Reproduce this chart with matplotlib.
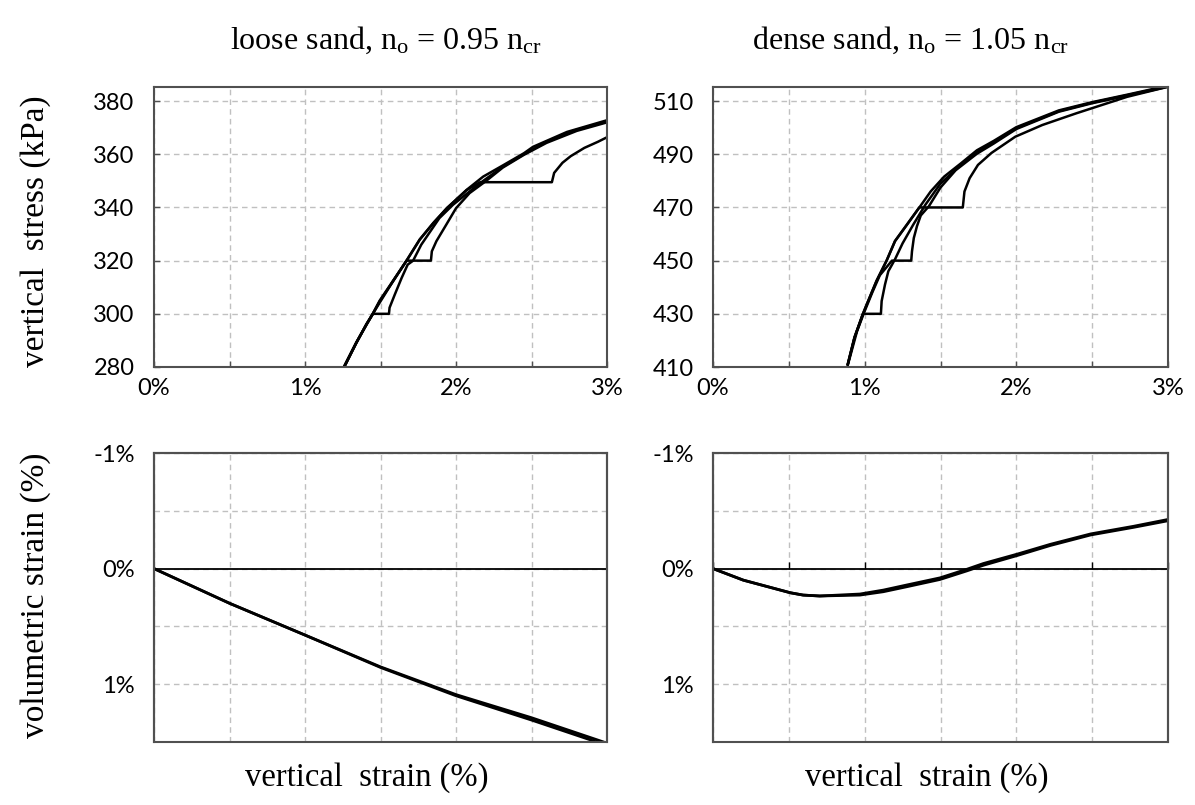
import matplotlib
matplotlib.use("Agg")
import matplotlib.pyplot as plt
from matplotlib.ticker import MultipleLocator, FuncFormatter
from matplotlib.patches import Rectangle

# ---------------- data (strain in %, stress in kPa) ----------------
# loose sand: stress-strain curves (one without creep, three with a creep step)
loose_E_x = [1.262, 1.34, 1.407, 1.45, 1.495, 1.584, 1.673, 1.76, 1.85, 1.94, 2.07, 2.18, 2.31, 2.45, 2.51, 2.735, 3.0]
loose_E_y = [280.4, 289.1, 296.0, 300.0, 304.8, 312.3, 320.0, 327.9, 334.1, 339.7, 346.6, 351.6, 355.8, 360.4, 362.8, 368.4, 372.8]
loose_B_x = [1.262, 1.34, 1.407, 1.45, 1.556, 1.56, 1.595, 1.64, 1.68, 1.716, 1.77, 1.83, 1.89, 1.98, 2.09, 2.18, 2.31, 2.45, 2.6, 2.8, 3.0]
loose_B_y = [280.2, 289.0, 296.2, 300.0, 300.0, 302.3, 307.3, 313.5, 318.5, 320.0, 326.0, 331.0, 336.0, 341.0, 346.0, 350.0, 355.3, 360.0, 364.7, 369.2, 372.3]
loose_C_x = [1.262, 1.34, 1.407, 1.45, 1.495, 1.584, 1.673, 1.834, 1.84, 1.87, 1.93, 2.0, 2.09, 2.2, 2.31, 2.45, 2.6, 2.8, 3.0]
loose_C_y = [280.6, 289.3, 296.0, 300.2, 305.0, 312.5, 320.0, 320.0, 323.5, 327.3, 333.0, 339.7, 345.4, 350.0, 355.0, 359.8, 364.3, 368.8, 372.0]
loose_D_x = [1.262, 1.34, 1.45, 1.584, 1.673, 1.76, 1.85, 1.94, 2.07, 2.16, 2.635, 2.65, 2.705, 2.76, 2.85, 2.94, 3.0]
loose_D_y = [280.3, 289.2, 300.1, 312.4, 320.1, 328.0, 334.2, 339.8, 346.5, 349.5, 349.5, 353.0, 356.8, 359.3, 362.4, 364.7, 366.4]

# dense sand
dense_E_x = [0.889, 0.933, 0.989, 1.023, 1.078, 1.145, 1.2, 1.279, 1.357, 1.435, 1.524, 1.635, 1.74, 1.85, 2.0, 2.28, 2.5, 2.73, 3.0]
dense_E_y = [411.0, 421.0, 430.0, 434.8, 442.3, 450.0, 457.3, 463.5, 469.7, 476.0, 481.6, 486.6, 491.5, 495.0, 500.2, 506.5, 509.6, 512.4, 515.8]
dense_B_x = [0.889, 0.933, 0.989, 1.107, 1.112, 1.134, 1.156, 1.2, 1.25, 1.32, 1.4, 1.5, 1.635, 1.74, 1.85, 2.0, 2.28, 2.5, 2.73, 3.0]
dense_B_y = [411.2, 421.2, 430.0, 430.0, 434.8, 441.0, 446.0, 450.5, 456.5, 463.5, 471.0, 479.0, 486.0, 491.0, 494.5, 499.8, 506.2, 509.4, 512.2, 515.6]
dense_C_x = [0.889, 0.95, 0.995, 1.05, 1.1, 1.18, 1.307, 1.312, 1.324, 1.345, 1.37, 1.424, 1.5, 1.6, 1.74, 1.85, 2.0, 2.28, 2.5, 2.73, 3.0]
dense_C_y = [410.8, 423.5, 430.3, 438.0, 444.5, 450.0, 450.0, 453.5, 458.5, 463.0, 467.0, 470.5, 477.5, 484.0, 490.2, 494.0, 499.5, 506.0, 509.2, 512.0, 515.4]
dense_D_x = [0.889, 0.933, 0.989, 1.078, 1.145, 1.2, 1.279, 1.36, 1.647, 1.658, 1.692, 1.747, 1.836, 1.993, 2.171, 2.395, 2.73, 3.0]
dense_D_y = [411.1, 421.1, 430.1, 442.4, 450.1, 457.4, 463.6, 470.0, 470.0, 476.0, 481.0, 486.0, 490.5, 496.6, 501.0, 505.4, 511.6, 515.4]

# volumetric strain (%, positive = contraction)
loose_vol_x = [0.0, 0.5, 1.0, 1.5, 2.0, 2.5, 3.0]
loose_vol_a = [0.0, 0.30, 0.575, 0.85, 1.09, 1.29, 1.51]
loose_vol_b = [0.0, 0.30, 0.575, 0.855, 1.10, 1.31, 1.53]
dense_vol_x = [0.0, 0.2, 0.51, 0.594, 0.704, 0.969, 1.123, 1.277, 1.497, 1.673, 1.783, 2.008, 2.224, 2.49, 2.773, 3.0]
dense_vol_a = [0.0, 0.10, 0.209, 0.229, 0.237, 0.229, 0.20, 0.157, 0.094, 0.02, -0.029, -0.114, -0.20, -0.291, -0.357, -0.414]
dense_vol_b = [0.0, 0.10, 0.209, 0.229, 0.237, 0.22, 0.186, 0.142, 0.08, 0.006, -0.044, -0.126, -0.21, -0.30, -0.366, -0.425]

titles = ["loose sand, n$_{\\mathrm{o}}$ = 0.95 n$_{\\mathrm{cr}}$",
          "dense sand, n$_{\\mathrm{o}}$ = 1.05 n$_{\\mathrm{cr}}$"]
loose_stress_ticks = [280, 300, 320, 340, 360, 380]
dense_stress_ticks = [410, 430, 450, 470, 490, 510]

# ---------------- style ----------------
plt.rcParams['mathtext.fontset'] = 'custom'
plt.rcParams['mathtext.rm'] = 'Liberation Serif'
plt.rcParams['mathtext.it'] = 'Liberation Serif:italic'
SERIF = 'Liberation Serif'
TICKFONT = 'Lato'
GRID = dict(color='#c0c0c0', linestyle=(0, (4, 3)), linewidth=1.0)
SPINE = '#505050'
W, H = 1195, 805

fig = plt.figure(figsize=(W / 100, H / 100), dpi=100)

def rect(l, r, t, b):
    return [l / W, 1 - b / H, (r - l) / W, (b - t) / H]

ax_tl = fig.add_axes(rect(154, 607, 87, 367))
ax_tr = fig.add_axes(rect(713, 1168, 87, 367))
ax_bl = fig.add_axes(rect(154, 607, 453, 742))
ax_br = fig.add_axes(rect(713, 1168, 453, 742))

pct_int = FuncFormatter(lambda v, p: f"{v:.0f}%" if abs(v - round(v)) < 1e-6 else "")

def style_top(ax, ylo, yhi, yticks):
    ax.set_xlim(0, 3)
    ax.set_ylim(ylo, yhi)
    ax.xaxis.set_major_locator(MultipleLocator(0.5))
    ax.xaxis.set_major_formatter(pct_int)
    ax.set_yticks(yticks)
    ax.grid(True, **GRID)
    ax.tick_params(direction='in', length=4, width=1, color=SPINE)
    ax.tick_params(axis='y', pad=14, labelsize=17)
    ax.tick_params(axis='x', pad=8, labelsize=17)
    for lab in ax.get_xticklabels() + ax.get_yticklabels():
        lab.set_fontfamily(TICKFONT)
    for s in ax.spines.values():
        s.set_color(SPINE)
        s.set_linewidth(1.5)

LW = 1.8
for xs, ys in [(loose_E_x, loose_E_y), (loose_B_x, loose_B_y), (loose_C_x, loose_C_y), (loose_D_x, loose_D_y)]:
    ax_tl.plot(xs, ys, color='black', lw=LW)
for xs, ys in [(dense_E_x, dense_E_y), (dense_B_x, dense_B_y), (dense_C_x, dense_C_y), (dense_D_x, dense_D_y)]:
    ax_tr.plot(xs, ys, color='black', lw=LW)

style_top(ax_tl, 280, 385.3, loose_stress_ticks)
style_top(ax_tr, 410, 515.3, dense_stress_ticks)

def style_bottom(ax, ticks):
    ax.set_xlim(0, 3)
    ax.set_ylim(1.5, -1.0)
    ax.xaxis.set_major_locator(MultipleLocator(0.5))
    ax.xaxis.set_major_formatter(FuncFormatter(lambda v, p: ""))
    ax.yaxis.set_major_locator(MultipleLocator(0.5))
    ax.yaxis.set_major_formatter(FuncFormatter(
        lambda v, p: (f"{v:.0f}%".replace("-0%", "0%")) if abs(v - round(v)) < 1e-6 else ""))
    ax.grid(True, **GRID)
    ax.spines['bottom'].set_position(('data', 0))
    ax.spines['bottom'].set_color('black')
    ax.spines['bottom'].set_linewidth(1.3)
    for k in ['left', 'right', 'top']:
        ax.spines[k].set_color(SPINE)
        ax.spines[k].set_linewidth(1.5)
    ax.add_patch(Rectangle((0, 0), 1, 1, transform=ax.transAxes, fill=False,
                           edgecolor=SPINE, lw=1.5, zorder=5, clip_on=False))
    ax.tick_params(axis='x', direction='in', length=5 if ticks else 0, width=1, color='black')
    ax.tick_params(axis='y', direction='in', length=0, pad=14, labelsize=17)
    for lab in ax.get_yticklabels():
        lab.set_fontfamily(TICKFONT)

ax_bl.plot(loose_vol_x, loose_vol_a, color='black', lw=2.0)
ax_bl.plot(loose_vol_x, loose_vol_b, color='black', lw=2.0)
ax_br.plot(dense_vol_x, dense_vol_a, color='black', lw=2.0)
ax_br.plot(dense_vol_x, dense_vol_b, color='black', lw=2.0)
style_bottom(ax_bl, False)
style_bottom(ax_br, True)

# titles and labels
fig.text(386 / W, 1 - 40 / H, titles[0], ha='center', va='center', fontsize=23, family=SERIF)
fig.text(911 / W, 1 - 40 / H, titles[1], ha='center', va='center', fontsize=23, family=SERIF)
fig.text(36 / W, 1 - 231 / H, "vertical  stress (kPa)", rotation=90, ha='center', va='center',
         fontsize=24, family=SERIF)
fig.text(36 / W, 1 - 595 / H, "volumetric strain (%)", rotation=90, ha='center', va='center',
         fontsize=24, family=SERIF)
fig.text(367 / W, 1 - 778 / H, "vertical  strain (%)", ha='center', va='center', fontsize=23.5, family=SERIF)
fig.text(927 / W, 1 - 778 / H, "vertical  strain (%)", ha='center', va='center', fontsize=23.5, family=SERIF)

fig.savefig("out.png", dpi=100)
